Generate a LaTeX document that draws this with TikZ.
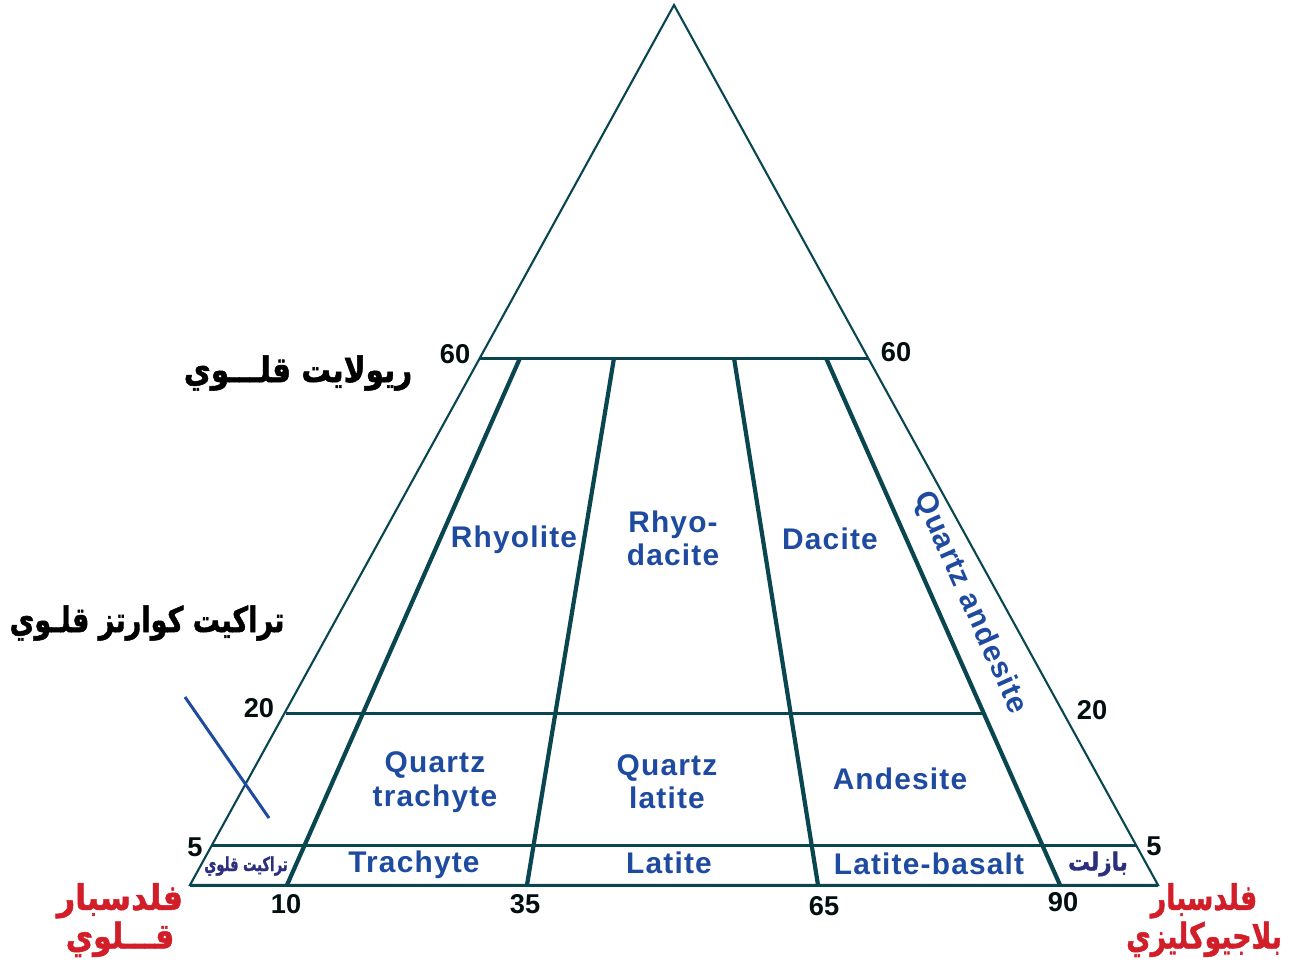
\documentclass[tikz,border=0pt]{standalone}
\usepackage{fontspec}
\usepackage{graphicx}
\setmainfont{Liberation Sans}
\newfontfamily\arabicfont[Script=Arabic,BoldFeatures={FakeBold=1.5}]{DejaVu Sans}
\newfontfamily\rockfont[LetterSpace=4]{Liberation Sans}
\TeXXeTstate=1
\usetikzlibrary{positioning}
\definecolor{edge}{RGB}{10,70,80}
\definecolor{rockblue}{RGB}{30,75,160}
\definecolor{arnavy}{RGB}{43,47,126}
\definecolor{feldred}{RGB}{210,30,40}
\newcommand{\artxt}[2][1]{\scalebox{#1}[1]{\arabicfont\bfseries\beginR #2\endR}}

\begin{document}
\begin{tikzpicture}[x=0.02cm,y=-0.02cm,
  outline/.style={draw=edge,line width=1.2pt,line join=miter},
  divider/.style={draw=edge,line width=2.4pt},
  isoline/.style={draw=edge,line width=1.7pt},
  numlabel/.style={font=\bfseries\fontsize{15.5}{15.5}\selectfont,text=black!80!edge,inner sep=0pt},
  rock/.style={font=\rockfont\bfseries\fontsize{17}{19}\selectfont,text=rockblue,align=center},
  arname/.style={font=\fontsize{20}{24}\selectfont,text=black},
  arsmall/.style={font=\fontsize{11}{13}\selectfont,text=arnavy},
  feld/.style={font=\fontsize{20}{22}\selectfont,text=feldred,align=center}]
\useasboundingbox (0,0) rectangle (1297,961);
% triangle
\coordinate (apex) at (674,5);
\coordinate (bl) at (190,885);
\coordinate (br) at (1158,885);
\coordinate (l60) at (480,358);
\coordinate (r60) at (868,358);
\coordinate (l20) at (286,713);
\coordinate (e20) at (985,713);
\coordinate (l5) at (212,845);
\coordinate (r5) at (1136,845);
% dividers, top and bottom
\coordinate (t10) at (520,358);  \coordinate (b10) at (287,885);
\coordinate (t35) at (614,358);  \coordinate (b35) at (527,885);
\coordinate (t65) at (734,358);  \coordinate (b65) at (818,885);
\coordinate (t90) at (826,358);  \coordinate (b90) at (1060,885);
\draw[outline] (apex) -- (bl) -- (br) -- cycle;
\draw[isoline] (l60) -- (r60);
\draw[isoline] (l20) -- (e20);
\draw[isoline] (l5) -- (r5);
\draw[isoline] (bl) -- (br);
\foreach \p in {10,35,65,90}
  \draw[divider] (t\p) -- (b\p);
% mark on left side
\coordinate (m1) at (185,697);
\coordinate (m2) at (269,818);
\draw[draw=rockblue,line width=1.7pt] (m1) -- (m2);
% numbers
\node[numlabel] (n60l) at (455,354) {60};
\node[numlabel] (n60r) at (896,352) {60};
\node[numlabel] (n20l) at (259,708) {20};
\node[numlabel] (n20r) at (1092,710) {20};
\node[numlabel] (n5l) at (195,847) {5};
\node[numlabel] (n5r) at (1154,846) {5};
\node[numlabel] (n10) at (286,904) {10};
\node[numlabel] (n35) at (525,904) {35};
\node[numlabel] (n65) at (824,906) {65};
\node[numlabel] (n90) at (1063,902) {90};
% rock fields
\node[rock] (rhyolite) at (514,540) {Rhyolite};
\node[rock] (rhyodacite) at (673,538) {Rhyo-\\dacite};
\node[rock] (dacite) at (830,539) {Dacite};
\node[rock,rotate=-66] (qandesite) at (970,603) {Quartz andesite};
\node[rock] (qtrachyte) at (435,782) {Quartz\\trachyte};
\node[rock] (qlatite) at (667,782) {Quartz\\latite};
\node[rock] (andesite) at (900,779) {Andesite};
\node[rock] (trachyte) at (414,865) {Trachyte};
\node[rock] (latite) at (669,863) {Latite};
\node[rock] (latbasalt) at (929,864) {Latite-basalt};
% arabic names
\node[arname] (alkrhy) at (298,373) {\artxt[0.84]{ريولايت قلـــوي}};
\node[arname] (alkqtr) at (147,623) {\artxt[0.77]{تراكيت كوارتز قلـوي}};
\node[arsmall] (alktr) at (246,866) {\artxt[0.68]{تراكيت قلوي}};
\node[arsmall,font=\fontsize{14}{16}\selectfont] (basalt) at (1098,864) {\artxt[0.88]{بازلت}};
\node[feld] (alkfeld) at (120,920) {\artxt[0.9]{فلدسبار}\\\artxt[0.85]{قـــلوي}};
\node[feld] (plagfeld) at (1204,920) {\artxt[0.76]{فلدسبار}\\\artxt[0.76]{بلاجيوكليزي}};
\end{tikzpicture}
\end{document}
